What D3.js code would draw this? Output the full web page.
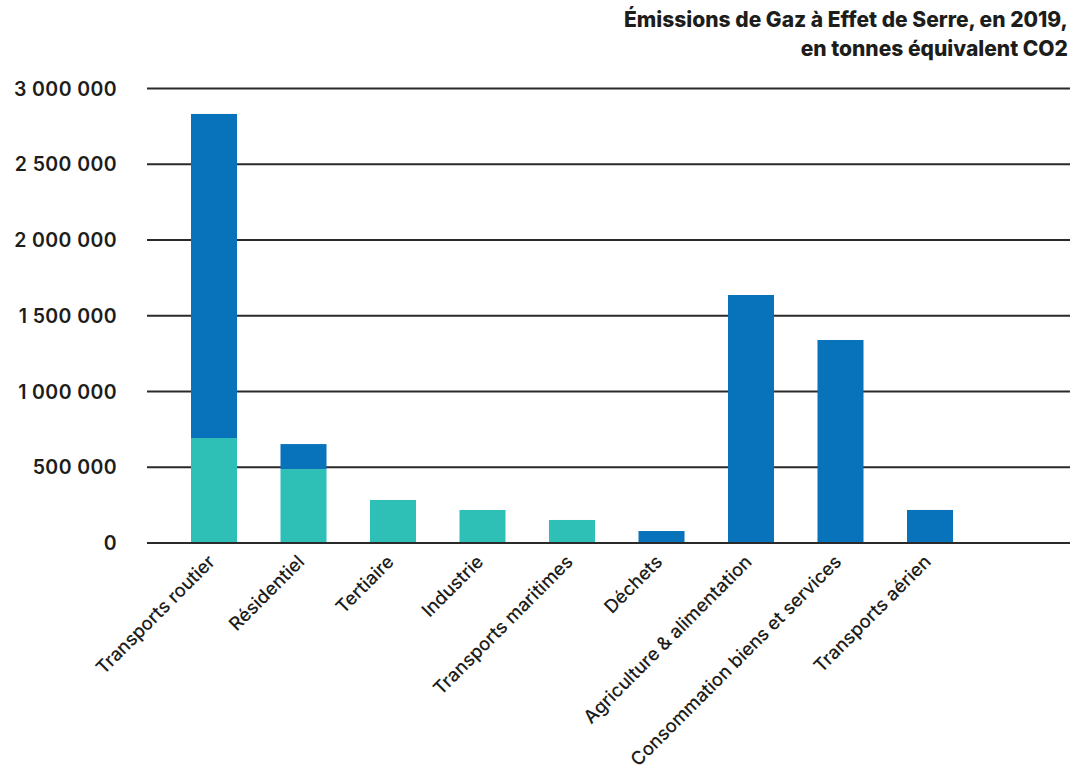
<!DOCTYPE html>
<html><head><meta charset="utf-8">
<script src="https://cdn.jsdelivr.net/npm/d3@7"></script>
<style>
html,body{margin:0;padding:0;background:#fff;}
svg text{font-family:Inter,"Open Sans",sans-serif;fill:#1d1d1b;}
</style></head>
<body>
<svg id="c" width="1073" height="783"></svg>
<script>
const categories = ["Transports routier","Résidentiel","Tertiaire","Industrie","Transports maritimes","Déchets","Agriculture & alimentation","Consommation biens et services","Transports aérien"];
const tealValues = [693000, 488000, 284000, 218000, 152000, 0, 0, 0, 0];
const blueValues = [2139000, 165000, 0, 0, 0, 79000, 1637000, 1340000, 218000];
const yTicks = [0, 500000, 1000000, 1500000, 2000000, 2500000, 3000000];
const titleLines = ["Émissions de Gaz à Effet de Serre, en 2019,", "en tonnes équivalent CO2"];
const colors = {teal:"#2ebfb7", blue:"#0872ba"};

const svg = d3.select("#c");
const x = d3.scaleBand().domain(categories).range([191, 953]).paddingInner(0.486).paddingOuter(0);
const y = d3.scaleLinear().domain([0, 3000000]).range([543, 88.5]);

const fmt = v => d3.format(",")(v).replace(/,/g, " ");
const gy = svg.append("g");
gy.selectAll("line").data(yTicks).join("line")
  .attr("x1", 147).attr("x2", 1070)
  .attr("y1", d => y(d)).attr("y2", d => y(d))
  .attr("stroke", "#2a2a2a").attr("stroke-width", 2);
gy.selectAll("text").data(yTicks).join("text")
  .attr("x", 117).attr("y", d => y(d) + 7)
  .attr("text-anchor", "end").attr("font-size", 19.5).attr("font-weight", 600)
  .attr("letter-spacing", 0.4)
  .text(d => fmt(d));

const stacks = categories.map((c, i) => ({c, t: tealValues[i], b: blueValues[i]}));
const g = svg.append("g");
g.selectAll("rect.t").data(stacks.filter(d => d.t > 0)).join("rect")
  .attr("class", "t").attr("x", d => x(d.c)).attr("width", x.bandwidth())
  .attr("y", d => y(d.t)).attr("height", d => y(0) - y(d.t)).attr("fill", colors.teal);
g.selectAll("rect.b").data(stacks.filter(d => d.b > 0)).join("rect")
  .attr("class", "b").attr("x", d => x(d.c)).attr("width", x.bandwidth())
  .attr("y", d => y(d.t + d.b)).attr("height", d => y(d.t) - y(d.t + d.b)).attr("fill", colors.blue);

svg.append("line").attr("x1", 147).attr("x2", 1070).attr("y1", y(0)).attr("y2", y(0))
  .attr("stroke", "#2a2a2a").attr("stroke-width", 2);

svg.append("g").selectAll("text").data(categories).join("text")
  .attr("transform", d => `translate(${x(d) + x.bandwidth()/2 + 2},${563}) rotate(-45)`)
  .attr("text-anchor", "end").attr("font-size", 18.5).attr("font-weight", 500)
  .text(d => d);

svg.append("g").selectAll("text").data(titleLines).join("text")
  .attr("x", 1068).attr("y", (d, i) => 27 + i * 29)
  .attr("text-anchor", "end").attr("font-size", 21).attr("font-weight", 800)
  .text(d => d);
</script>
</body></html>
